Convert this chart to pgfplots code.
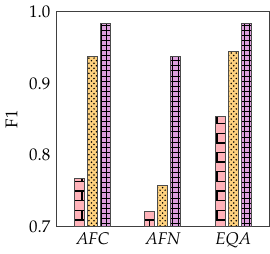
\documentclass[border=0pt]{standalone}
\usepackage[T1]{fontenc}
\usepackage{mathpazo}
\usepackage{pgfplots}
\pgfplotsset{compat=1.18}
\usetikzlibrary{patterns}
\definecolor{cpink}{HTML}{FFB3BA}
\definecolor{cyellow}{HTML}{FFD27F}
\definecolor{cpurple}{HTML}{DDA0DD}
\begin{document}
\begin{tikzpicture}
\begin{axis}[
  scale only axis, width=126pt, height=127pt,
  ybar=1.8pt, bar width=5.9pt,
  ymin=0.7, ymax=1.0, xmin=-0.52, xmax=2.52,
  xtick={0,1,2}, xticklabels={AFC,AFN,EQA},
  xticklabel style={font=\itshape},
  ytick={0.7,0.8,0.9,1.0},
  yticklabel style={/pgf/number format/fixed, /pgf/number format/precision=1, /pgf/number format/fixed zerofill},
  major tick length=0pt,
  ylabel={F1},
  axis line style={black!75},
  every axis plot/.append style={draw=black!70, line width=0.6pt},
]
\addplot[fill=cpink, postaction={pattern=bricks, pattern color=black}] coordinates {(0,0.767) (1,0.722) (2,0.854)};
\addplot[fill=cyellow, postaction={pattern=crosshatch dots, pattern color=black}] coordinates {(0,0.938) (1,0.757) (2,0.945)};
\addplot[fill=cpurple, postaction={pattern=grid, pattern color=black}] coordinates {(0,0.983) (1,0.938) (2,0.983)};
\end{axis}
\end{tikzpicture}
\end{document}
